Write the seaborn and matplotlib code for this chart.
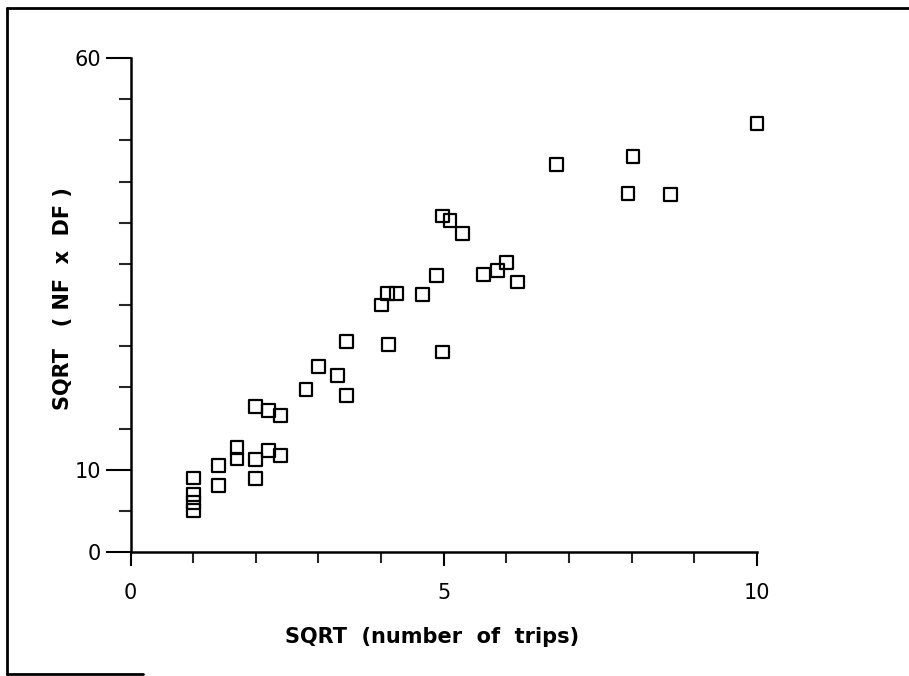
import numpy as np
import pandas as pd
import matplotlib
matplotlib.use("Agg")
import matplotlib.pyplot as plt
import seaborn as sns
from matplotlib.lines import Line2D
from matplotlib.ticker import FixedLocator

# values
sqrt_trips = [1.0, 1.0, 1.0, 1.0,
              1.4, 1.4,
              1.7, 1.7,
              2.0, 2.0, 2.0,
              2.2, 2.2,
              2.4, 2.4,
              2.8, 3.0, 3.3,
              3.45, 3.45,
              4.0, 4.1, 4.25, 4.12,
              4.66, 4.89, 4.98, 5.1, 5.3, 4.98,
              5.64, 5.86, 6.0, 6.18,
              6.8, 8.02, 7.94, 8.62, 10.0]
sqrt_nf_df = [9.0, 7.0, 6.0, 5.0,
              10.5, 8.1,
              12.7, 11.3,
              17.7, 11.2, 8.9,
              17.2, 12.3,
              16.6, 11.7,
              19.7, 22.5, 21.4,
              25.6, 19.0,
              30.0, 31.4, 31.4, 25.2,
              31.3, 33.6, 40.8, 40.3, 38.7, 24.3,
              33.7, 34.2, 35.2, 32.8,
              47.1, 48.0, 43.5, 43.4, 52.0]

x_major = [0, 5, 10]
y_major = [0, 10, 60]

df = pd.DataFrame({"trips": sqrt_trips, "nfdf": sqrt_nf_df})

sns.set_style("ticks")
plt.rcParams['font.family'] = ['DejaVu Sans']

fig = plt.figure(figsize=(9.09, 6.76), dpi=100)
ax = fig.add_axes([0.1436, 0.1834, 0.6892, 0.7308])

sns.scatterplot(data=df, x="trips", y="nfdf", marker="s", s=85,
                facecolor="none", edgecolor="black", linewidth=1.6,
                clip_on=False, ax=ax)

ax.set_xlim(0, 10)
ax.set_ylim(0, 60)
ax.xaxis.set_major_locator(FixedLocator(x_major))
ax.xaxis.set_minor_locator(FixedLocator([1, 2, 3, 4, 6, 7, 8, 9]))
ax.yaxis.set_major_locator(FixedLocator(y_major))
ax.yaxis.set_minor_locator(FixedLocator([5, 15, 20, 25, 30, 35, 40, 45, 50, 55]))

sns.despine(ax=ax)
for side in ["left", "bottom"]:
    ax.spines[side].set_linewidth(1.8)
    ax.spines[side].set_color("black")

ax.tick_params(axis="x", which="major", length=10, width=1.5, pad=12, labelsize=15, colors="black")
ax.tick_params(axis="x", which="minor", length=8, width=1.5)
ax.tick_params(axis="y", which="major", length=18, width=1.5, pad=3, labelsize=15, colors="black")
ax.tick_params(axis="y", which="minor", length=9, width=1.5)

ax.set_xlabel("SQRT  (number  of  trips)", fontsize=15, fontweight="bold", color="black")
ax.set_ylabel("SQRT   ( NF  x  DF )", fontsize=15, fontweight="bold", color="black")
ax.xaxis.set_label_coords(0.481, -0.152)
ax.yaxis.set_label_coords(-0.092, 0.513)

# scanned page frame
fig.add_artist(Line2D([0.0077, 1.0], [0.988, 0.988], transform=fig.transFigure, color="black", lw=2))
fig.add_artist(Line2D([0.0077, 0.0077], [0.003, 0.988], transform=fig.transFigure, color="black", lw=2))
fig.add_artist(Line2D([0.0077, 0.157], [0.003, 0.003], transform=fig.transFigure, color="black", lw=2))

fig.savefig("out.png", dpi=100)
